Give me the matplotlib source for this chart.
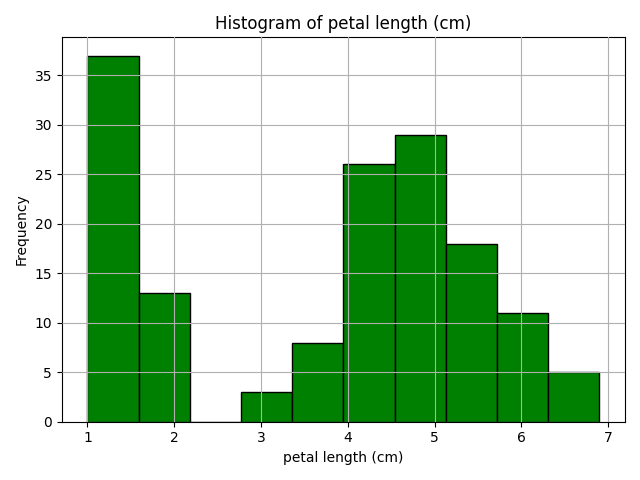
import matplotlib
matplotlib.use('Agg')
import matplotlib.pyplot as plt
import numpy as np

# iris petal length histogram, 10 bins
bin_edges = np.linspace(1.0, 6.9, 11)
counts = [37, 13, 0, 3, 8, 26, 29, 18, 11, 5]

fig, ax = plt.subplots(figsize=(6.4, 4.8), dpi=100)
ax.bar(bin_edges[:-1], counts, width=np.diff(bin_edges), align='edge',
       color='green', edgecolor='black')
ax.set_axisbelow(False)
ax.grid(True)
ax.set_title('Histogram of petal length (cm)')
ax.set_xlabel('petal length (cm)')
ax.set_ylabel('Frequency')
fig.tight_layout()
fig.savefig('out.png')
